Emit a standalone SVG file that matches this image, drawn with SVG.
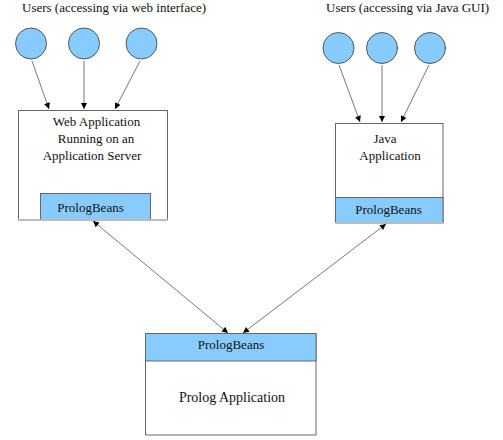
<svg xmlns="http://www.w3.org/2000/svg" width="503" height="440" viewBox="0 0 503 440">
<defs>
<style type="text/css">
text { font-family: 'Liberation Serif', 'Times New Roman', serif; font-size: 13px; fill: #111; }
.mid { text-anchor: middle; }
.big { font-size: 14px; }
.user { fill: #88CCFF; stroke: #555; stroke-width: 1; }
.box { fill: #fff; stroke: #666; stroke-width: 1; }
.band { fill: #88CCFF; stroke: #666; stroke-width: 1; }
.shadow { stroke: #bbb; stroke-width: 2; }
.conn { stroke: #555; stroke-width: 0.8; fill: none; }
</style>
<marker id="ah" viewBox="0 0 10 10" refX="10" refY="5" markerWidth="8" markerHeight="6" markerUnits="userSpaceOnUse" orient="auto-start-reverse">
<path d="M0,0 L10,5 L0,10 z" fill="#000"/>
</marker>
</defs>
<rect width="503" height="440" fill="#fff"/>
<text x="22" y="12">Users (accessing via web interface)</text>
<text x="326" y="12">Users (accessing via Java GUI)</text>
<g id="web-users">
<circle class="user" cx="31" cy="43.5" r="15.5"/>
<circle class="user" cx="84" cy="43.5" r="15.5"/>
<circle class="user" cx="141.5" cy="43.5" r="15.5"/>
</g>
<g id="java-users">
<circle class="user" cx="338.5" cy="48" r="15.5"/>
<circle class="user" cx="382" cy="48" r="15.5"/>
<circle class="user" cx="430" cy="48" r="15.5"/>
</g>
<g id="web-app">
<rect class="box" x="18.5" y="110.5" width="149" height="109.5"/>
<rect class="band" x="40.5" y="193.5" width="110" height="26.5"/>
<line class="shadow" x1="18" y1="220" x2="168" y2="220"/>
<text class="mid" x="96.5" y="126">Web Application</text>
<text class="mid" x="96" y="143">Running on an</text>
<text class="mid" x="92" y="160">Application Server</text>
<text class="mid" x="90.5" y="212">PrologBeans</text>
</g>
<g id="java-app">
<rect class="box" x="335.5" y="123.5" width="107.5" height="99.5"/>
<rect class="band" x="335.5" y="197.5" width="107.5" height="25.5"/>
<line class="shadow" x1="335" y1="223" x2="444" y2="223"/>
<text class="mid" x="385" y="143">Java</text>
<text class="mid" x="390" y="159.5">Application</text>
<text class="mid" x="388.5" y="213.5">PrologBeans</text>
</g>
<g id="prolog-app">
<rect class="box" x="145.5" y="333.5" width="170.5" height="101.5"/>
<rect class="band" x="145.5" y="333.5" width="170.5" height="27.5"/>
<text class="mid" x="231" y="349">PrologBeans</text>
<text class="mid big" x="232" y="402">Prolog Application</text>
</g>
<g id="connectors">
<line class="conn" x1="32" y1="61" x2="49" y2="109" marker-end="url(#ah)"/>
<line class="conn" x1="84" y1="61" x2="84" y2="109" marker-end="url(#ah)"/>
<line class="conn" x1="140" y1="61" x2="115" y2="109" marker-end="url(#ah)"/>
<line class="conn" x1="339" y1="65" x2="360" y2="122" marker-end="url(#ah)"/>
<line class="conn" x1="382" y1="65" x2="382" y2="122" marker-end="url(#ah)"/>
<line class="conn" x1="429" y1="65" x2="401" y2="122" marker-end="url(#ah)"/>
<line class="conn" x1="93" y1="221" x2="228" y2="333" marker-start="url(#ah)" marker-end="url(#ah)"/>
<line class="conn" x1="386" y1="224" x2="243" y2="333" marker-start="url(#ah)" marker-end="url(#ah)"/>
</g>
</svg>
